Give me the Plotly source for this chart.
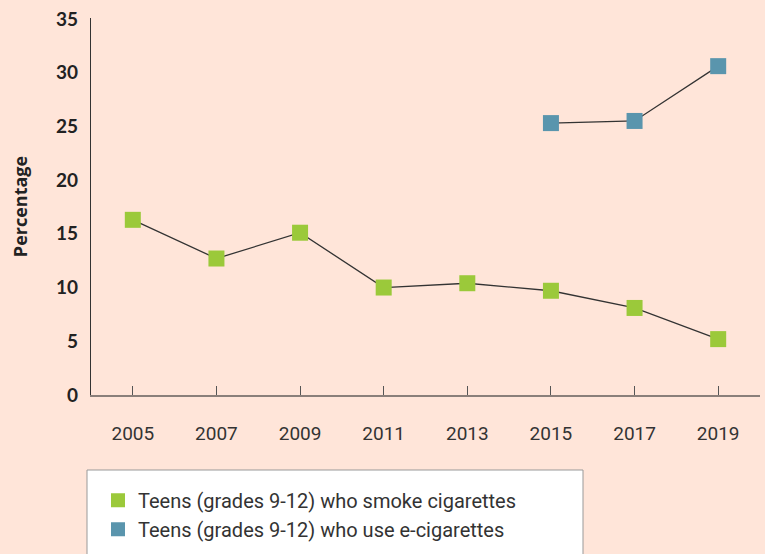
import plotly.graph_objects as go

years = [2005, 2007, 2009, 2011, 2013, 2015, 2017, 2019]
cig = [16.3, 12.7, 15.1, 10.0, 10.4, 9.7, 8.1, 5.2]
ecig_years = [2015, 2017, 2019]
ecig = [25.3, 25.5, 30.6]
names = ["Teens (grades 9-12) who smoke cigarettes",
         "Teens (grades 9-12) who use e-cigarettes"]
yticks = [0, 5, 10, 15, 20, 25, 30, 35]

GREEN = "#9BC93A"
BLUE = "#5A95AD"
BG = "#FFE5D9"

B = 154
PB = 554 - B  # plot bottom pixel
PH = PB - 18

fig = go.Figure()
fig.add_trace(go.Scatter(x=years, y=cig, mode="lines+markers",
                         line=dict(color="#333333", width=1.3),
                         marker=dict(symbol="square", size=16, color=GREEN),
                         showlegend=False))
fig.add_trace(go.Scatter(x=ecig_years, y=ecig, mode="lines+markers",
                         line=dict(color="#333333", width=1.3),
                         marker=dict(symbol="square", size=16, color=BLUE),
                         showlegend=False))
for nm, col in zip(names, [GREEN, BLUE]):
    fig.add_trace(go.Scatter(x=[None], y=[None], mode="markers", name=nm,
                             marker=dict(symbol="square", size=14, color=col)))

# legend box
fig.add_shape(type="rect", xref="paper", yref="paper",
              x0=(87 - 91) / 669, x1=(583 - 91) / 669,
              y0=(PB - 600) / PH, y1=(PB - 476) / PH,
              fillcolor="white", line=dict(color="#999999", width=1), layer="below")

fig.update_layout(
    width=765, height=554,
    margin=dict(l=91, r=5, t=18, b=B),
    paper_bgcolor=BG, plot_bgcolor=BG,
    legend=dict(x=(98 - 91) / 669, y=(PB - 487) / PH,
                xanchor="left", yanchor="top",
                bgcolor="rgba(0,0,0,0)", borderwidth=0,
                font=dict(family="Roboto", size=20, color="#333333"),
                tracegroupgap=0),
    xaxis=dict(range=[2004, 2020], tickvals=years, ticktext=[str(y) for y in years],
               ticks="inside", ticklen=9, tickcolor="#555555", tickwidth=1.3,
               showline=True, linecolor="#8a7f7a", linewidth=2,
               showgrid=False, zeroline=False,
               tickfont=dict(family="Roboto", size=19, color="#333333"),
               ticklabelstandoff=20),
    yaxis=dict(range=[0, 35.08], tickvals=yticks,
               showline=True, linecolor="#333333", linewidth=1.3,
               showgrid=False, zeroline=False, ticks="",
               tickfont=dict(family="Lato", size=19, color="#222222", weight="bold"),
               ticklabelstandoff=8,
               title=dict(text="Percentage", standoff=23,
                          font=dict(family="Open Sans", size=18, color="#222222", weight="bold"))),
)

fig.write_html("out.html")
